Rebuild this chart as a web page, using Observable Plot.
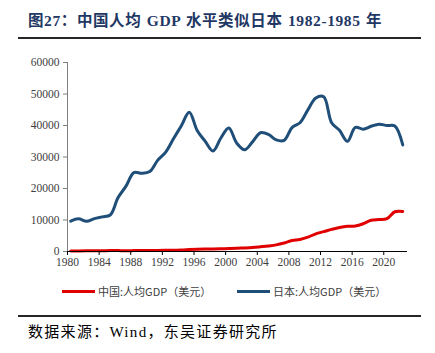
<!DOCTYPE html>
<html>
<head>
<meta charset="utf-8">
<script src="https://cdn.jsdelivr.net/npm/d3@7"></script>
<script src="https://cdn.jsdelivr.net/npm/@observablehq/plot@0.6"></script>
<style>
  html, body { margin: 0; padding: 0; background: #fff; width: 435px; height: 353px; overflow: hidden; }
  #wrap { position: relative; width: 435px; height: 353px; }
  #title { position: absolute; left: 28px; top: 8px; font-family: "Liberation Serif", "Noto Sans CJK SC", serif; font-weight: bold; font-size: 15.5px; color: #1f3864; white-space: nowrap; letter-spacing: 0.6px; word-spacing: 1px; }
  .rule { position: absolute; left: 18px; width: 403px; background: #262626; }
  #chart { position: absolute; left: 0; top: 50px; }
  #legend { position: absolute; top: 283px; left: 0; width: 435px; font-family: "Noto Sans CJK SC", sans-serif; font-size: 11px; color: #404040; }
  .item { position: absolute; display: flex; align-items: center; white-space: nowrap; }
  .swatch { display: inline-block; width: 33px; height: 3px; margin-right: 3px; }
  #source { position: absolute; left: 28px; top: 320px; font-family: "Liberation Serif", "Noto Sans CJK SC", serif; font-size: 15px; letter-spacing: 1.3px; color: #000; white-space: nowrap; }
</style>
</head>
<body>
<div id="wrap">
  <div id="title"></div>
  <div class="rule" style="top:37px;height:2px;"></div>
  <div id="chart"></div>
  <div id="legend"></div>
  <div class="rule" style="top:315px;height:1.5px;"></div>
  <div id="source"></div>
</div>
<script>
const titleText = "图27：中国人均 GDP 水平类似日本 1982-1985 年";
const sourceText = "数据来源：Wind，东吴证券研究所";
const seriesNames = ["中国:人均GDP（美元）", "日本:人均GDP（美元）"];
const seriesColors = ["#e00000", "#1f4e79"];
const years = d3.range(1980, 2023);
const china = [195, 197, 203, 225, 250, 294, 282, 252, 284, 311, 318, 333, 366, 377, 473, 610, 709, 781, 829, 873, 959, 1053, 1149, 1289, 1509, 1753, 2099, 2694, 3468, 3832, 4550, 5614, 6301, 7020, 7636, 8016, 8094, 8817, 9905, 10144, 10409, 12618, 12720];
const japan = [9659, 10361, 9578, 10425, 10984, 11585, 17112, 20745, 25051, 24813, 25359, 28925, 31465, 35766, 39934, 44198, 38437, 35022, 31903, 36027, 39169, 34406, 32289, 34808, 37689, 37218, 35434, 35275, 39339, 40855, 44968, 48760, 49145, 40898, 38475, 34961, 39375, 38834, 39751, 40416, 39987, 39827, 33815];
const xTicks = [1980, 1984, 1988, 1992, 1996, 2000, 2004, 2008, 2012, 2016, 2020];
const yTicks = [0, 10000, 20000, 30000, 40000, 50000, 60000];

document.getElementById("title").textContent = titleText;
document.getElementById("source").textContent = sourceText;

const rows = [];
years.forEach((y, i) => {
  rows.push({year: y, value: china[i], series: seriesNames[0]});
  rows.push({year: y, value: japan[i], series: seriesNames[1]});
});

const chart = Plot.plot({
  width: 435,
  height: 220,
  marginLeft: 67,
  marginRight: 28,
  marginTop: 12,
  marginBottom: 19,
  style: { fontFamily: "Liberation Serif, serif", fontSize: "11.5px", color: "#404040", background: "#fff" },
  x: { domain: [1980, 2023], ticks: xTicks, tickFormat: d => String(d), label: null },
  y: { domain: [0, 60000], ticks: yTicks, tickFormat: d => String(d), label: null },
  color: { domain: seriesNames, range: seriesColors },
  marks: [
    Plot.ruleX([1980], { stroke: "#7f7f7f", strokeWidth: 1 }),
    Plot.axisY({ ticks: yTicks, tickSize: 4, tickPadding: 4, stroke: "#7f7f7f", tickFormat: d => String(d), fill: "#404040", label: null }),
    Plot.lineY(rows, { x: d => d.year + 0.4, y: "value", z: "series", stroke: "series", strokeWidth: 3, curve: "catmull-rom" }),
    Plot.ruleY([0], { stroke: "#000", strokeWidth: 1.2 }),
    Plot.axisX({ ticks: xTicks, tickSize: 4, tickPadding: 2, stroke: "#000", tickFormat: d => String(d), fill: "#404040", label: null })
  ]
});
document.getElementById("chart").appendChild(chart);

const legend = document.getElementById("legend");
const lefts = [62, 237];
seriesNames.forEach((name, i) => {
  const item = document.createElement("div");
  item.className = "item";
  item.style.left = lefts[i] + "px";
  const sw = document.createElement("span");
  sw.className = "swatch";
  sw.style.background = seriesColors[i];
  const label = document.createElement("span");
  label.textContent = name;
  item.appendChild(sw);
  item.appendChild(label);
  legend.appendChild(item);
});
</script>
</body>
</html>
